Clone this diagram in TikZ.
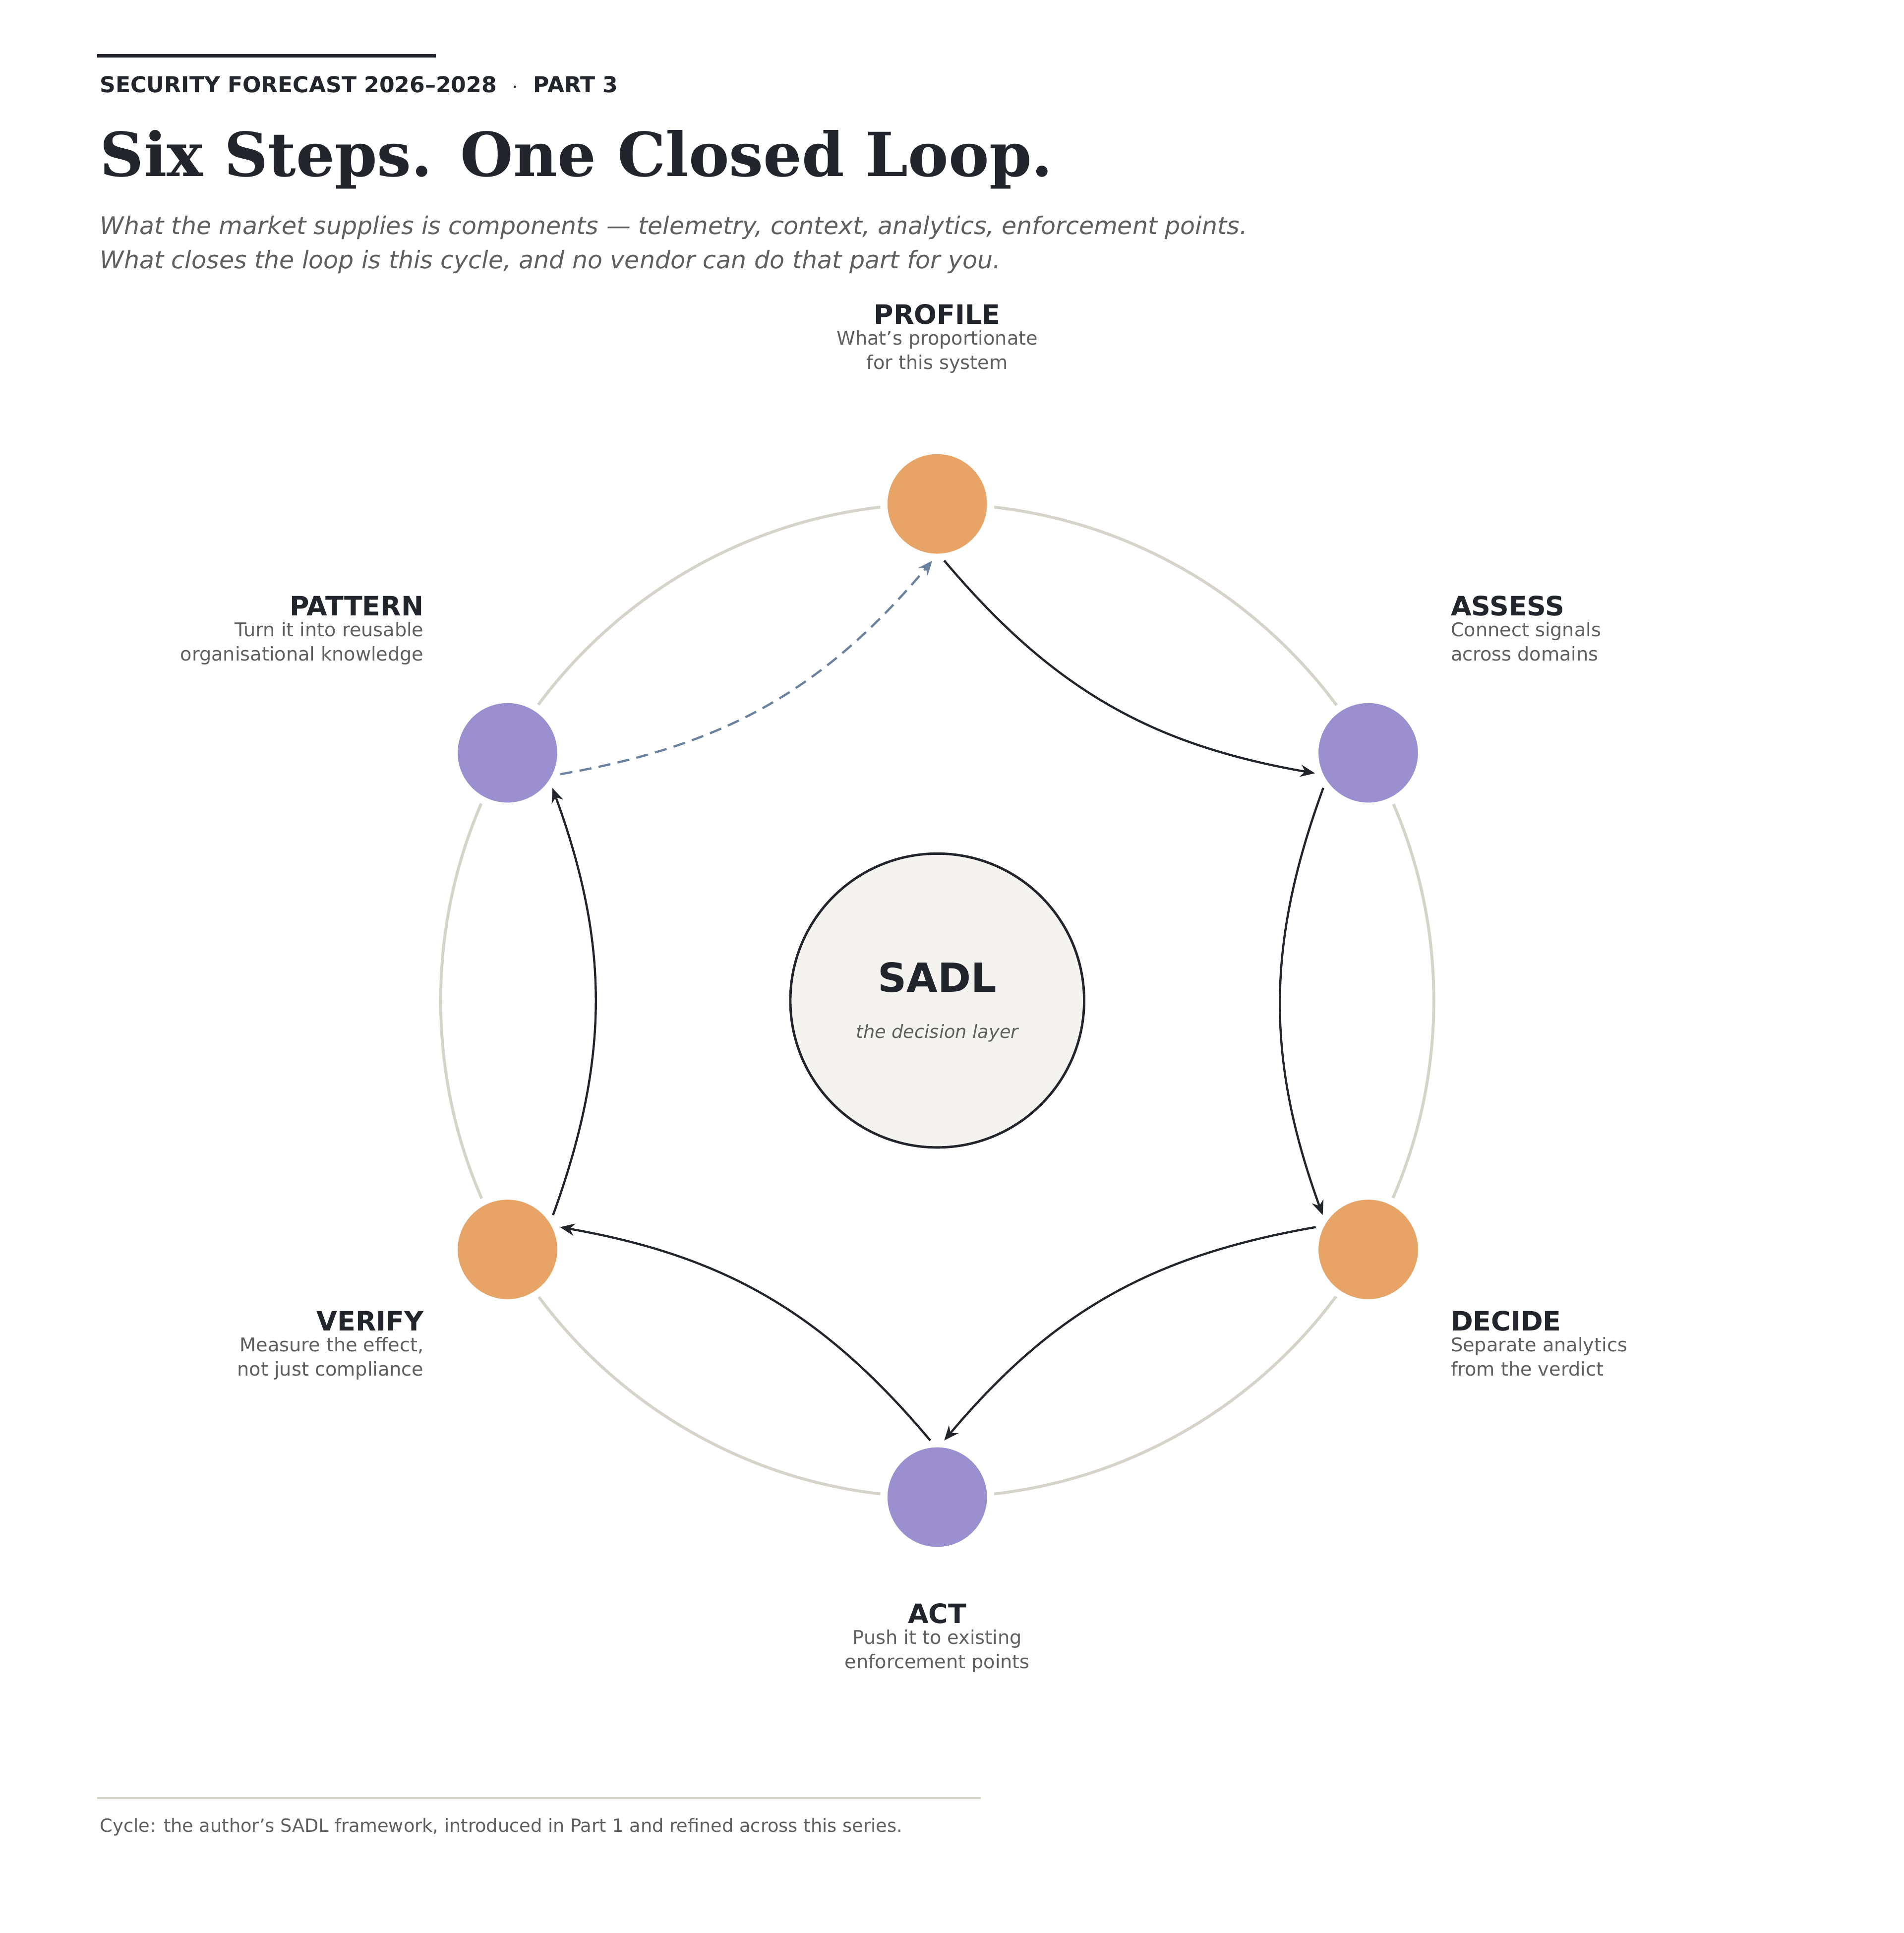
\documentclass[tikz,border=0pt]{standalone}
\usepackage{fontspec}
\setmainfont{DejaVu Sans}
\newfontfamily\titlefont{DejaVu Serif}
\usetikzlibrary{arrows.meta}
\definecolor{ink}{HTML}{22252B}
\definecolor{soft}{HTML}{5F5F5F}
\definecolor{orng}{HTML}{E8A467}
\definecolor{purp}{HTML}{9B8FD0}
\definecolor{ring}{HTML}{D6D3CB}
\definecolor{core}{HTML}{F4F3EF}
\definecolor{dash}{HTML}{6A82A0}
\begin{document}
\begin{tikzpicture}[x=0.5pt,y=-0.5pt,
  stepnode/.style={circle,minimum size=44pt,inner sep=0pt,draw=white,line width=3pt},
  lab/.style={font=\bfseries\fontsize{11}{13}\selectfont,text=ink},
  desc/.style={font=\fontsize{7.8}{10}\selectfont,text=soft},
  flow/.style={draw=ink,line width=0.9pt,-{Stealth[length=6pt,width=5pt]},bend right=20}]
\useasboundingbox (0,0) rectangle (1568,1592);
\draw[ring,line width=1.2pt] (772,824) circle[radius=204.5pt];
\draw[ink,line width=1.5pt] (80,46) -- (359,46);
\node[anchor=base west,font=\bfseries\fontsize{9}{11}\selectfont,text=ink,inner sep=0] (hdr) at (82,76) {SECURITY FORECAST 2026–2028 \ $\cdot$ \ PART 3};
\node[anchor=base west,font=\titlefont\bfseries\fontsize{25}{30}\selectfont,text=ink,inner sep=0] (title) at (82,145) {Six Steps. One Closed Loop.};
\node[anchor=base west,font=\itshape\fontsize{10}{14}\selectfont,text=soft,inner sep=0] (sub1) at (82,193) {What the market supplies is components — telemetry, context, analytics, enforcement points.};
\node[anchor=base west,font=\itshape\fontsize{10}{14}\selectfont,text=soft,inner sep=0] (sub2) at (82,221) {What closes the loop is this cycle, and no vendor can do that part for you.};
\node[circle,draw=ink,line width=1pt,fill=core,minimum size=121pt] (sadl) at (772,824) {};
\node[font=\bfseries\fontsize{16.5}{18}\selectfont,text=ink] (sadlt) at (772,805) {SADL};
\node[font=\itshape\fontsize{7.5}{9}\selectfont,text=soft] (sadls) at (772,851) {the decision layer};
\node[stepnode,fill=orng] (profile) at (772,415) {};
\node[stepnode,fill=purp] (assess) at (1127,620) {};
\node[stepnode,fill=orng] (decide) at (1127,1029) {};
\node[stepnode,fill=purp] (act) at (772,1233) {};
\node[stepnode,fill=orng] (verify) at (418,1029) {};
\node[stepnode,fill=purp] (pattern) at (418,620) {};
\draw[flow] (profile.-83) to (assess.-159);
\draw[flow] (assess.218) to (decide.143);
\draw[flow] (decide.157) to (act.83);
\draw[flow] (act.97) to (verify.23);
\draw[flow] (verify.37) to (pattern.-38);
\draw[flow,draw=dash,dashed,dash pattern=on 5pt off 3pt] (pattern.-22) to (profile.-95);
\node[lab,anchor=base] (l1) at (772,267) {PROFILE};
\node[desc,anchor=base,align=center] (d1) at (772,304) {What's proportionate\\for this system};
\node[lab,anchor=base east] (l6) at (356,507) {PATTERN};
\node[desc,anchor=base east,align=right] (d6) at (356,544) {Turn it into reusable\\organisational knowledge};
\node[lab,anchor=base west] (l2) at (1188,507) {ASSESS};
\node[desc,anchor=base west,align=left] (d2) at (1188,544) {Connect signals\\across domains};
\node[lab,anchor=base east] (l5) at (356,1096) {VERIFY};
\node[desc,anchor=base east,align=right] (d5) at (356,1133) {Measure the effect,\\not just compliance};
\node[lab,anchor=base west] (l3) at (1188,1096) {DECIDE};
\node[desc,anchor=base west,align=left] (d3) at (1188,1133) {Separate analytics\\from the verdict};
\node[lab,anchor=base] (l4) at (772,1337) {ACT};
\node[desc,anchor=base,align=center] (d4) at (772,1374) {Push it to existing\\enforcement points};
\draw[ring,line width=0.8pt] (80,1481) -- (808,1481);
\node[anchor=base west,font=\fontsize{7.5}{9}\selectfont,text=soft,inner sep=0] (foot) at (82,1509) {Cycle: the author's SADL framework, introduced in Part 1 and refined across this series.};
\end{tikzpicture}
\end{document}
